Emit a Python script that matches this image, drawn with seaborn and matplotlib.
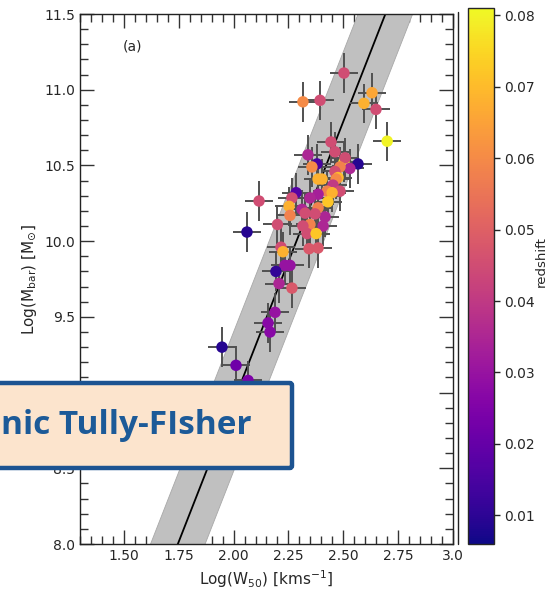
import numpy as np
import pandas as pd
import matplotlib
matplotlib.use("Agg")
import matplotlib.pyplot as plt
import seaborn as sns
from matplotlib.patches import FancyBboxPatch
from matplotlib.lines import Line2D

# Galaxy sample: log line width, log baryonic mass, redshift
log_w50 = [2.503, 2.316, 2.394, 2.631, 2.594, 2.649, 2.700, 2.444, 2.339, 2.462,
           2.380, 2.357, 2.503, 2.508, 2.567, 2.530, 2.485, 2.462, 2.476, 2.385,
           2.403, 2.467, 2.453, 2.426, 2.485, 2.449, 2.385, 2.285, 2.348, 2.266,
           2.430, 2.253, 2.312, 2.385, 2.417, 2.371, 2.326, 2.257, 2.200, 2.348,
           2.408, 2.316, 2.116, 2.061, 2.335, 2.376, 2.216, 2.225, 2.344, 2.385,
           2.234, 2.257, 2.193, 2.207, 2.266, 2.189, 2.157, 2.166, 1.947, 2.011,
           2.066]
log_mbar = [11.11, 10.92, 10.93, 10.98, 10.91, 10.87, 10.66, 10.655, 10.57, 10.59,
            10.51, 10.49, 10.52, 10.55, 10.51, 10.48, 10.49, 10.46, 10.42, 10.41,
            10.41, 10.41, 10.37, 10.33, 10.33, 10.32, 10.31, 10.32, 10.285, 10.285,
            10.26, 10.23, 10.21, 10.22, 10.16, 10.18, 10.185, 10.17, 10.11, 10.11,
            10.10, 10.10, 10.265, 10.06, 10.05, 10.05, 9.96, 9.93, 9.95, 9.955,
            9.84, 9.84, 9.80, 9.72, 9.69, 9.53, 9.46, 9.40, 9.30, 9.18,
            9.08]
redshift = [0.045, 0.060, 0.045, 0.066, 0.068, 0.045, 0.080, 0.045, 0.035, 0.045,
            0.015, 0.060, 0.078, 0.045, 0.009, 0.035, 0.058, 0.045, 0.070, 0.068,
            0.068, 0.060, 0.040, 0.058, 0.045, 0.068, 0.033, 0.017, 0.035, 0.045,
            0.072, 0.068, 0.035, 0.058, 0.035, 0.045, 0.045, 0.058, 0.045, 0.058,
            0.035, 0.045, 0.045, 0.009, 0.045, 0.072, 0.045, 0.068, 0.048, 0.048,
            0.030, 0.030, 0.011, 0.035, 0.048, 0.030, 0.027, 0.027, 0.009, 0.022,
            0.025]
w50_err = 0.065
mbar_err = 0.13

# Best-fit relation and its scatter band
fit_slope = 3.70
fit_intercept = 1.54
fit_scatter = 0.46

z_min, z_max = 0.006, 0.081

df = pd.DataFrame({"logW50": log_w50, "logMbar": log_mbar, "z": redshift})

sns.set_style("ticks")
plt.rcParams["font.family"] = ["DejaVu Sans"]

fig = plt.figure(figsize=(5.51, 5.90), dpi=100)
ax = fig.add_axes([80 / 551, 1 - 544 / 590, 373 / 551, 530 / 590])
cax = fig.add_axes([468 / 551, 1 - 544 / 590, 26 / 551, 536 / 590])

# Fit band and line
xs = np.linspace(1.3, 3.0, 200)
ys = fit_slope * xs + fit_intercept
ax.fill_between(xs, ys - fit_scatter, ys + fit_scatter, color="#c0c0c0",
                edgecolor="#a8a8a8", linewidth=0.6, zorder=1)
ax.plot(xs, ys, color="black", lw=1.3, zorder=2)

# Error bars
ax.errorbar(df["logW50"], df["logMbar"], xerr=w50_err, yerr=mbar_err,
            fmt="none", ecolor="#505050", elinewidth=1.4, capsize=0, zorder=3)

# Points coloured by redshift
sns.scatterplot(data=df, x="logW50", y="logMbar", hue="z", palette="plasma",
                hue_norm=(z_min, z_max), s=68, linewidth=0, legend=False,
                ax=ax, zorder=4)

ax.set_xlim(1.3, 3.0)
ax.set_ylim(8.0, 11.5)
ax.set_xticks([1.5, 1.75, 2.0, 2.25, 2.5, 2.75, 3.0])
ax.set_xticklabels(["1.50", "1.75", "2.00", "2.25", "2.50", "2.75", "3.0"])
ax.set_yticks([8.0, 8.5, 9.0, 9.5, 10.0, 10.5, 11.0, 11.5])
ax.xaxis.set_minor_locator(matplotlib.ticker.MultipleLocator(0.05))
ax.yaxis.set_minor_locator(matplotlib.ticker.MultipleLocator(0.1))
ax.tick_params(which="both", direction="in", top=True, right=True,
               labelsize=10, width=1.0, color="#333333")
ax.tick_params(which="major", length=10)
ax.tick_params(which="minor", length=5.5)
for sp in ax.spines.values():
    sp.set_linewidth(1.0)
    sp.set_color("#222222")
ax.set_xlabel(r"Log(W$_{50}$) [kms$^{-1}$]", fontsize=11)
ax.set_ylabel(r"Log(M$_{\rm bar}$) [M$_{\odot}$]", fontsize=11)
ax.text(0.142, 0.938, "(a)", transform=ax.transAxes, fontsize=10,
        ha="center", va="center")

# Colour bar
sm = matplotlib.cm.ScalarMappable(cmap="plasma",
                                  norm=matplotlib.colors.Normalize(z_min, z_max))
cb = fig.colorbar(sm, cax=cax)
cb.set_ticks([0.01, 0.02, 0.03, 0.04, 0.05, 0.06, 0.07, 0.08])
cb.set_ticklabels(["0.01", "0.02", "0.03", "0.04", "0.05", "0.06", "0.07", "0.08"])
cax.tick_params(labelsize=10, length=4, width=1.0)
cb.outline.set_linewidth(1.0)
fig.text(541 / 551, 1 - 262 / 590, "redshift", rotation=90, fontsize=9.5,
         ha="center", va="center")

# Thin rule beside the right frame
fig.add_artist(Line2D([458 / 551, 458 / 551], [1 - 544 / 590, 1 - 12 / 590],
                      transform=fig.transFigure, color="#222222", lw=1.0))

# Title banner
banner = FancyBboxPatch((-20 / 551, 1 - 468 / 590), 312 / 551, 85 / 590,
                        boxstyle="round,pad=0,rounding_size=0.004",
                        transform=fig.transFigure, facecolor="#fce4cd",
                        edgecolor="#1c5391", linewidth=3.2, zorder=10)
fig.add_artist(banner)
fig.text(1 / 551, 1 - 425 / 590, "nic Tully-FIsher", fontsize=24,
         fontweight="bold", color="#1c5a98", family=["Open Sans", "DejaVu Sans"],
         ha="left", va="center", zorder=11)

fig.savefig("out.png", dpi=100)
